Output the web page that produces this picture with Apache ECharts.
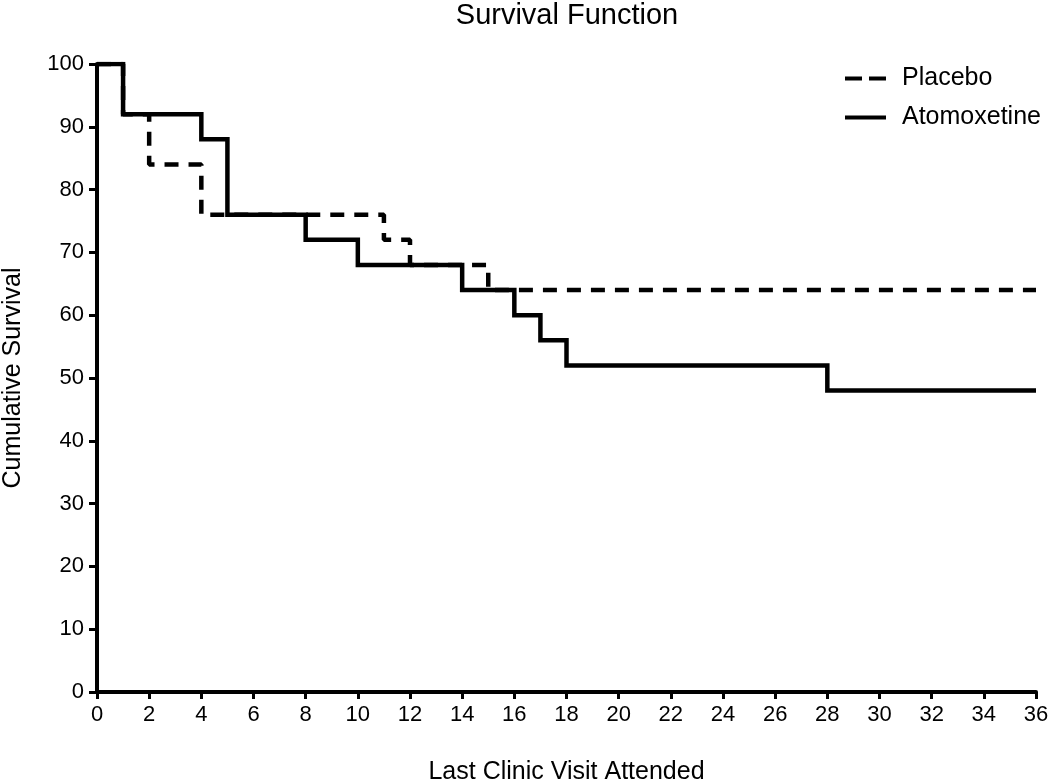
<!DOCTYPE html>
<html><head><meta charset="utf-8">
<script src="https://cdn.jsdelivr.net/npm/echarts@6/dist/echarts.min.js"></script>
<style>html,body{margin:0;padding:0;background:#fff}#c{width:1050px;height:784px}</style>
</head><body><div id="c"></div>
<script>
const placeboX = [0, 1, 2, 4, 11, 12, 15, 36];
const placeboY = [100, 92, 84, 76, 72, 68, 64, 64];
const atoX = [0, 1, 4, 5, 8, 10, 14, 16, 17, 18, 28, 36];
const atoY = [100, 92, 88, 76, 72, 68, 64, 60, 56, 52, 48, 48];
const FONT = '"Liberation Sans", Arial, Helvetica, sans-serif';
const chart = echarts.init(document.getElementById('c'));
chart.setOption({
  backgroundColor: '#fff',
  animation: false,
  textStyle: {fontFamily: FONT, color: '#000'},
  title: {text: 'Survival Function', left: 567, top: 1, padding: 0, textAlign: 'center',
    textStyle: {fontFamily: FONT, fontSize: 29, fontWeight: 'normal', color: '#000'}},
  grid: {left: 97, right: 14, top: 64, bottom: 92, containLabel: false, outerBoundsMode: 'none'},
  legend: {left: 845, top: 66, padding: 0, orient: 'vertical', itemWidth: 41, itemHeight: 4, itemGap: 14,
    textStyle: {fontFamily: FONT, fontSize: 25, lineHeight: 25, color: '#000', padding: [0, 0, 0, 11]},
    data: [
      {name: 'Placebo', icon: 'path://M0,0h17v4h-17z M24,0h17v4h-17z'},
      {name: 'Atomoxetine', icon: 'path://M0,0h41v4h-41z'}
    ]},
  xAxis: {type: 'value', min: 0, max: 36, interval: 2,
    name: 'Last Clinic Visit Attended', nameLocation: 'middle', nameGap: 68,
    nameTextStyle: {fontFamily: FONT, fontSize: 25, color: '#000'},
    axisLine: {onZero: false, lineStyle: {color: '#000', width: 4}},
    axisTick: {show: true, length: 7, lineStyle: {color: '#000', width: 3}},
    axisLabel: {fontFamily: FONT, fontSize: 22, color: '#000', margin: 12},
    splitLine: {show: false}},
  yAxis: {type: 'value', min: 0, max: 100, interval: 10,
    name: 'Cumulative Survival', nameLocation: 'middle', nameGap: 71,
    nameTextStyle: {fontFamily: FONT, fontSize: 25, color: '#000'},
    axisLine: {show: true, onZero: false, lineStyle: {color: '#000', width: 4}},
    axisTick: {show: true, length: 8, lineStyle: {color: '#000', width: 3}},
    axisLabel: {fontFamily: FONT, fontSize: 22, color: '#000', margin: 13},
    splitLine: {show: false}},
  series: [
    {name: 'Placebo', type: 'line', step: 'end', symbol: 'none',
      lineStyle: {color: '#000', width: 4.5, type: [14, 10], cap: 'butt'},
      itemStyle: {color: '#000'},
      data: placeboX.map((x, i) => [x, placeboY[i]])},
    {name: 'Atomoxetine', type: 'line', step: 'end', symbol: 'none',
      lineStyle: {color: '#000', width: 4.5, cap: 'butt', join: 'miter'},
      itemStyle: {color: '#000'},
      data: atoX.map((x, i) => [x, atoY[i]])}
  ]
});
</script></body></html>
